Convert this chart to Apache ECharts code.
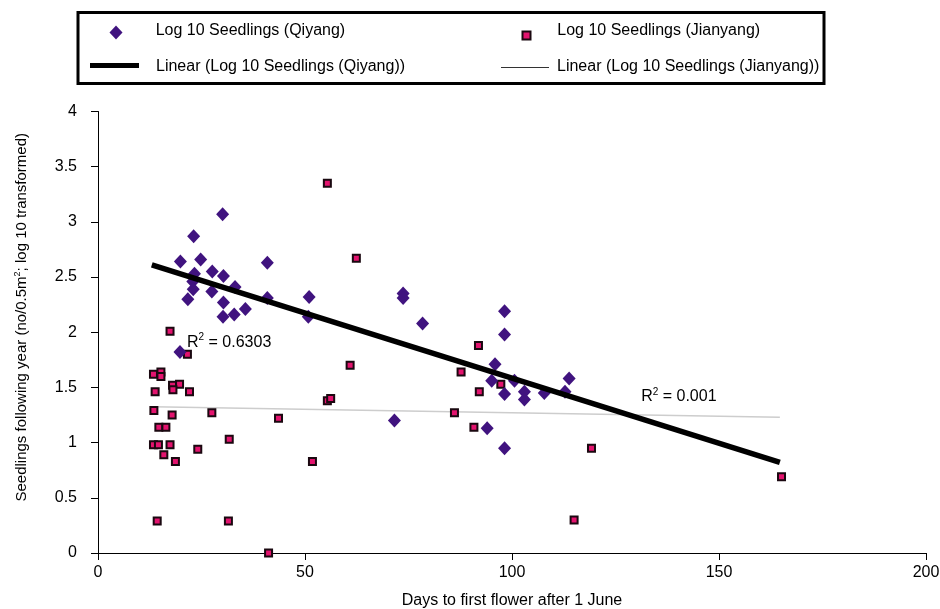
<!DOCTYPE html>
<html>
<head>
<meta charset="utf-8">
<script src="https://cdn.jsdelivr.net/npm/echarts@6/dist/echarts.min.js"></script>
<style>
  html, body { margin: 0; padding: 0; background: #fff; }
  #chart { width: 940px; height: 609px; }
</style>
</head>
<body>
<div id="chart"></div>
<script>
// Qiyang points [days, log10 seedlings]
var qiyangX = [30.1, 23.1, 19.9, 24.8, 40.9, 23.3, 27.6, 30.3, 22.9, 33.1, 23.0, 27.5, 21.7, 30.3, 40.9, 35.6, 32.9, 30.2, 19.8,
  51.0, 50.8, 73.7, 73.7, 78.4, 71.6, 98.2, 98.2, 95.9, 95.1, 100.6, 113.8, 98.2, 103.0, 103.0, 107.8, 112.8, 94.0, 98.2];
var qiyangY = [3.07, 2.87, 2.64, 2.66, 2.63, 2.53, 2.55, 2.51, 2.46, 2.41, 2.39, 2.37, 2.30, 2.27, 2.31, 2.21, 2.16, 2.14, 1.82,
  2.32, 2.14, 2.35, 2.31, 2.08, 1.20, 2.19, 1.98, 1.71, 1.56, 1.56, 1.58, 1.44, 1.46, 1.39, 1.45, 1.46, 1.13, 0.95];

// Jianyang points
var jianyangX = [17.4, 21.6, 13.4, 15.2, 15.2, 18.0, 19.7, 18.1, 13.8, 22.1, 13.5, 17.9, 27.5, 43.6, 14.7, 16.4, 31.7, 13.4, 14.6,
  17.4, 24.1, 15.9, 18.7, 14.3, 31.5, 41.2, 55.4, 62.4, 60.9, 55.4, 56.2, 51.8, 91.9, 87.7, 92.1, 97.3, 86.1, 90.8, 119.2, 165.1, 115.0];
var jianyangY = [2.01, 1.80, 1.62, 1.64, 1.60, 1.52, 1.53, 1.48, 1.46, 1.46, 1.29, 1.25, 1.27, 1.22, 1.14, 1.14, 1.03, 0.98, 0.98,
  0.98, 0.94, 0.89, 0.83, 0.29, 0.29, 0.0, 3.35, 2.67, 1.70, 1.38, 1.40, 0.83, 1.88, 1.64, 1.46, 1.53, 1.27, 1.14, 0.95, 0.69, 0.30];

// linear trend end points
var trendQiyangX = [13.0, 164.7];
var trendQiyangY = [2.61, 0.82];
var trendJianyangX = [13.3, 164.7];
var trendJianyangY = [1.325, 1.23];

var r2Qiyang = '0.6303';
var r2Jianyang = '0.001';

var xTicks = { min: 0, max: 200, interval: 50 };
var yTicks = { min: 0, max: 4, interval: 0.5 };

function pairs(xs, ys) {
  return xs.map(function (x, i) { return [x, ys[i]]; });
}

var FONT = "'Liberation Sans', Arial, sans-serif";
var NAME_Q = 'Log 10 Seedlings (Qiyang)';
var NAME_J = 'Log 10 Seedlings (Jianyang)';
var NAME_LQ = 'Linear (Log 10 Seedlings (Qiyang))';
var NAME_LJ = 'Linear (Log 10 Seedlings (Jianyang))';

var r2Rich = {
  t: { fontFamily: FONT, fontSize: 16, color: '#000' },
  s: { fontFamily: FONT, fontSize: 10, color: '#000', padding: [0, 0, 9, 0] }
};

// legend: icon only (no text)
function legendIcon(name, left, top, w, h, extra) {
  var item = { name: name };
  if (extra) { for (var k in extra) item[k] = extra[k]; }
  return {
    data: [item], left: left, top: top,
    itemWidth: w, itemHeight: h, padding: 0, selectedMode: false,
    formatter: function () { return ''; },
    textStyle: { fontSize: 1 }
  };
}
// legend: text only (zero sized icon), top is the text's top edge
function legendText(name, left, top) {
  return {
    data: [{ name: name, icon: 'rect', itemStyle: { color: 'rgba(0,0,0,0)', borderWidth: 0 } }],
    left: left - 5, top: top,
    itemWidth: 0, itemHeight: 0, padding: 0, selectedMode: false,
    textStyle: { fontFamily: FONT, fontSize: 16, color: '#000' }
  };
}

var chart = echarts.init(document.getElementById('chart'));

var option = {
  backgroundColor: '#fff',
  animation: false,
  textStyle: { fontFamily: FONT },
  graphic: [{
    type: 'rect',
    shape: { x: 78, y: 12.5, width: 746, height: 71 },
    style: { fill: 'none', stroke: '#000', lineWidth: 3 },
    z: 100
  }],
  legend: [
    legendIcon(NAME_Q, 109.5, 25.5, 13, 14),
    legendIcon(NAME_J, 521.5, 30.5, 8, 8),
    legendIcon(NAME_LQ, 90, 63, 49, 5, { icon: 'rect', itemStyle: { color: '#000' } }),
    legendIcon(NAME_LJ, 501, 67, 48, 1, { icon: 'rect', itemStyle: { color: '#333' } }),
    legendText(NAME_Q, 155.7, 22.5),
    legendText(NAME_J, 557.3, 22.5),
    legendText(NAME_LQ, 156, 58.5),
    legendText(NAME_LJ, 557, 58.5)
  ],
  grid: { left: 98, right: 14, top: 111.5, bottom: 56, containLabel: false, outerBoundsMode: 'none' },
  xAxis: {
    type: 'value',
    min: xTicks.min, max: xTicks.max, interval: xTicks.interval,
    name: 'Days to first flower after 1 June',
    nameLocation: 'middle',
    nameGap: 40,
    nameTextStyle: { fontFamily: FONT, fontSize: 16, color: '#000' },
    axisLine: { show: true, onZero: false, lineStyle: { color: '#000', width: 1 } },
    axisTick: { show: true, inside: false, length: 7, lineStyle: { color: '#000' } },
    axisLabel: { fontFamily: FONT, fontSize: 16, color: '#000', margin: 12 },
    splitLine: { show: false }
  },
  yAxis: {
    type: 'value',
    min: yTicks.min, max: yTicks.max, interval: yTicks.interval,
    name: 'Seedlings following year (no/0.5m{s|2}; log 10 transformed)',
    nameLocation: 'middle',
    nameGap: 68,
    nameTextStyle: {
      fontFamily: FONT, fontSize: 15, color: '#000', padding: [0, 0, 0, 30],
      rich: { s: { fontFamily: FONT, fontSize: 9, color: '#000', padding: [0, 0, 8, 0] } }
    },
    axisLine: { show: true, onZero: false, lineStyle: { color: '#000', width: 1 } },
    axisTick: { show: true, inside: false, length: 7, lineStyle: { color: '#000' } },
    axisLabel: { fontFamily: FONT, fontSize: 16, color: '#000', margin: 21 },
    splitLine: { show: false }
  },
  series: [
    {
      name: NAME_LJ,
      type: 'line',
      data: pairs(trendJianyangX, trendJianyangY),
      symbol: 'none',
      silent: true,
      z: 1,
      itemStyle: { color: '#c8c8c8' },
      lineStyle: { color: '#cdcdcd', width: 1.3 },
      markPoint: {
        silent: true,
        symbol: 'circle',
        symbolSize: 0,
        data: [{ coord: [131.2, 1.42] }],
        label: {
          show: true, position: 'right', distance: 0,
          formatter: '{t|R}{s|2}{t| = ' + r2Jianyang + '}',
          rich: r2Rich
        }
      }
    },
    {
      name: NAME_J,
      type: 'scatter',
      data: pairs(jianyangX, jianyangY),
      symbol: 'rect',
      symbolSize: 7,
      z: 3,
      itemStyle: { color: '#e3136e', borderColor: '#1a0810', borderWidth: 2, opacity: 1 }
    },
    {
      name: NAME_Q,
      type: 'scatter',
      data: pairs(qiyangX, qiyangY),
      symbol: 'diamond',
      symbolSize: [13, 14],
      z: 4,
      itemStyle: { color: '#40137f', opacity: 1 }
    },
    {
      name: NAME_LQ,
      type: 'line',
      data: pairs(trendQiyangX, trendQiyangY),
      symbol: 'none',
      silent: true,
      z: 5,
      itemStyle: { color: '#000' },
      lineStyle: { color: '#000', width: 5.5 },
      markPoint: {
        silent: true,
        symbol: 'circle',
        symbolSize: 0,
        data: [{ coord: [21.5, 1.91] }],
        label: {
          show: true, position: 'right', distance: 0,
          formatter: '{t|R}{s|2}{t| = ' + r2Qiyang + '}',
          rich: r2Rich
        }
      }
    }
  ]
};

chart.setOption(option);
</script>
</body>
</html>
